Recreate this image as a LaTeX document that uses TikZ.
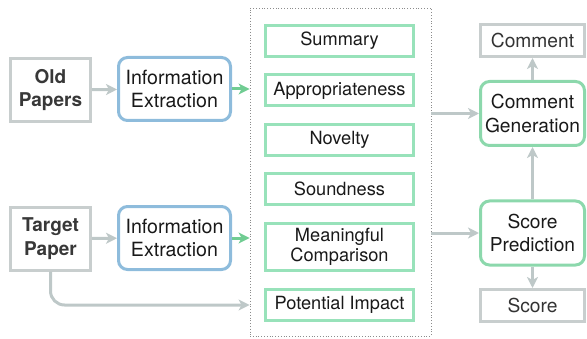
\documentclass[tikz,border=0pt]{standalone}
\usepackage{fontspec}
\setmainfont{TeX Gyre Heros}
\usetikzlibrary{arrows.meta}
\definecolor{grisbox}{RGB}{200,206,206}
\definecolor{grisfleche}{RGB}{190,200,200}
\definecolor{bleu}{RGB}{142,188,220}
\definecolor{vert}{RGB}{152,226,186}
\definecolor{vertfonce}{RGB}{140,216,172}
\definecolor{vertfleche}{RGB}{112,204,146}
\definecolor{pointille}{RGB}{140,140,140}

\begin{document}
\begin{tikzpicture}[x=1pt, y=1pt]
	% STYLES
	\tikzstyle{source} = [draw=grisbox, line width=3pt, minimum width=80pt, minimum height=63pt, align=center, text=black!78, font=\fontsize{19}{23.5}\selectfont\bfseries]
	\tikzstyle{extract} = [draw=bleu, line width=3pt, rounded corners=9pt, minimum width=112pt, minimum height=63pt, align=center, text=black!90, font=\fontsize{19.6}{23.5}\selectfont]
	\tikzstyle{aspect} = [draw=vert, line width=3pt, minimum width=148pt, minimum height=31pt, align=center, text=black!90, font=\fontsize{18.2}{20.5}\selectfont]
	\tikzstyle{model} = [draw=vertfonce, line width=3pt, rounded corners=9pt, minimum width=104pt, minimum height=64pt, align=center, text=black!90, font=\fontsize{19.2}{23.5}\selectfont]
	\tikzstyle{sortie} = [draw=grisbox, line width=3pt, minimum width=104pt, minimum height=32pt, align=center, text=black!80, font=\fontsize{19.2}{23}\selectfont]
	\tikzstyle{cadre} = [draw=pointille, line width=0.8pt, dotted, minimum width=181pt, minimum height=328pt]
	\tikzstyle{fleche} = [line width=3pt, draw=grisfleche, -{Stealth[length=11pt, width=11pt, inset=3pt]}]
	\tikzstyle{flechevert} = [line width=3pt, draw=vertfleche, -{Stealth[length=11pt, width=11pt, inset=3pt]}]

	\useasboundingbox (0, 0) rectangle (587, 338);

	% INPUTS
	\node[source] (old) at (50.5, 248) {Old\\Papers};
	\node[source] (target) at (50.5, 99.5) {Target\\Paper};
	\node[extract] (ie1) at (174.5, 249) {Information\\Extraction};
	\node[extract] (ie2) at (174.5, 100) {Information\\Extraction};

	% ASPECTS
	\node[cadre] (aspects) at (340.5, 166) {};
	\node[aspect] (sum) at (339.5, 297) {Summary};
	\node[aspect] (app) at (339.5, 247.5) {Appropriateness};
	\node[aspect] (nov) at (339.5, 198) {Novelty};
	\node[aspect] (sou) at (339.5, 149) {Soundness};
	\node[aspect, minimum height=47pt] (mc) at (339.5, 91) {Meaningful\\Comparison};
	\node[aspect] (pi) at (339.5, 33) {Potential Impact};

	% OUTPUTS
	\node[sortie] (comment) at (532.5, 297.5) {Comment};
	\node[model] (cg) at (532.5, 224.5) {Comment\\Generation};
	\node[model] (sp) at (532.5, 105) {Score\\Prediction};
	\node[sortie] (score) at (532.5, 32.5) {Score};

	% ARROWS
	\draw[fleche] (old) -- (ie1);
	\draw[fleche] (target) -- (ie2);
	\draw[flechevert] (ie1.east) -- (ie1.east -| aspects.west);
	\draw[flechevert] (ie2.east) -- (ie2.east -| aspects.west);
	\draw[fleche, rounded corners=14pt] (target.south) |- (aspects.west |- pi.west);
	\draw[fleche] (aspects.east |- cg.west) -- (cg.west);
	\draw[fleche] (aspects.east |- sp.west) -- (sp.west);
	\draw[fleche] (sp) -- (cg);
	\draw[fleche] (cg) -- (comment);
	\draw[fleche] (sp) -- (score);
\end{tikzpicture}
\end{document}
